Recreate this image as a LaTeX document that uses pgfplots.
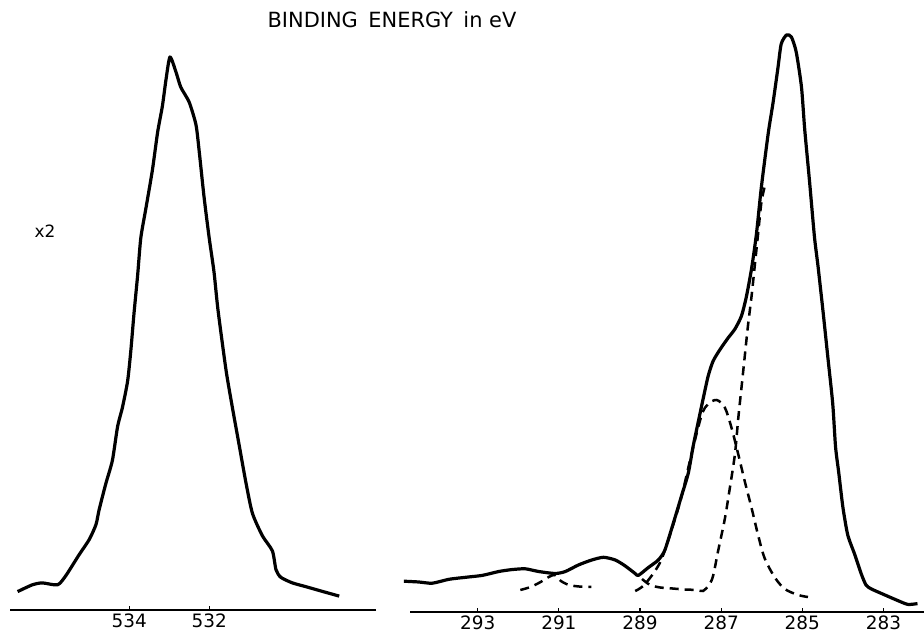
\documentclass[border=0pt]{standalone}
\usepackage{pgfplots}
\pgfplotsset{compat=1.18}
\usepackage{fontspec}
\setmainfont{DejaVu Sans}
\begin{document}
\begin{tikzpicture}
\path[use as bounding box] (0,0) rectangle (924bp,632bp);
\pgfplotsset{
  xpsstyle/.style={
    scale only axis,
    axis x line*=bottom,
    axis y line=none,
    x dir=reverse,
    ymin=0,
    clip=false,
    axis line style={line width=2.6bp, black},
    tick align=inside,
    major tick length=4bp,
    tick style={line width=1.2bp, black},
    xticklabel style={font=\fontsize{18.5}{18.5}\selectfont, inner sep=0pt, anchor=north},
    xticklabel shift=3.5bp,
  },
  solidcurve/.style={black, line width=3.2bp, line join=round, no markers, smooth, tension=0.4},
  dashcurve/.style={black, line width=2.5bp, dash pattern=on 9bp off 6bp, no markers, smooth},
}
% ---------- left panel: O 1s ----------
\begin{axis}[xpsstyle,
  at={(10bp,22bp)}, anchor=south west,
  width=366bp, height=580bp,
  xmin=527.83, xmax=536.98, ymax=580,
  xtick={534,532}, xticklabels={534,532}]
\addplot[solidcurve] coordinates {
(536.79,18.4) (536.42,25.2) (536.17,27.1) (535.79,25.2) (535.58,34.6)
(535.25,55.4) (535.00,70.4) (534.83,85.5) (534.75,100.6) (534.58,127)
(534.42,149.6) (534.29,183.5) (534.17,202.4) (534.04,228.8) (533.96,259)
(533.88,296.6) (533.79,334.3) (533.71,372) (533.58,402.2) (533.42,439.9)
(533.29,477.6) (533.17,504) (533.08,530.4) (532.98,553) (532.83,537.9)
(532.71,522.8) (532.50,507.8) (532.33,485.1) (532.25,458.7) (532.13,413.5)
(532.00,372) (531.88,338.1) (531.78,300) (531.58,240.1)
(531.42,202.4) (531.25,164.7) (531.08,127) (530.92,96.8) (530.67,74.2)
(530.42,59.1) (530.33,40.3) (530.21,32.7) (529.92,27.1) (529.58,23.3)
(529.25,19.5) (528.92,15.8) (528.75,13.9)
};
\end{axis}
% ---------- right panel: C 1s ----------
\begin{axis}[xpsstyle,
  at={(410bp,20bp)}, anchor=south west,
  width=514bp, height=582bp,
  xmin=282.0, xmax=294.67, ymax=582,
  xtick={293,291,289,287,285,283}, xticklabels={293,291,289,287,285,283}]
\addplot[solidcurve] coordinates {
(294.82,30.8) (294.45,30.0) (294.12,28.8) (293.71,32.7) (293.30,34.7)
(292.89,36.6) (292.48,40.5) (292.16,42.4) (291.83,43.2) (291.50,40.5)
(291.09,38.5) (290.84,40.5) (290.52,47.0) (290.19,52.0) (289.90,54.7)
(289.61,52.0) (289.37,46.2) (289.12,38.5) (289.04,36.6) (288.80,44.3)
(288.55,52.0) (288.39,61.7) (288.18,88.7) (287.98,115.7) (287.81,138.9)
(287.69,165.9) (287.57,189.1) (287.44,214) (287.32,236) (287.20,250.8)
(287.03,262.4) (286.83,274.0) (286.66,283) (286.50,296) (286.38,315)
(286.25,343.5) (286.13,378.2) (286.01,424.5) (285.84,478.6) (285.72,509.5)
(285.60,544.2) (285.52,568) (285.39,577) (285.27,575.1) (285.15,560)
(285.02,524.9) (284.94,482.4) (284.82,430) (284.70,375) (284.61,345)
(284.49,301.0) (284.37,254.7) (284.25,208.4) (284.18,165) (284.10,138.9)
(284.00,105) (283.88,77.1) (283.71,57.8) (283.55,38.5) (283.43,27.0)
(283.30,23.1) (282.98,17.3) (282.65,11.5) (282.40,7.6) (282.16,8.4)
};
% small component near 291
\addplot[dashcurve] coordinates {
(291.95,22) (291.7,25) (291.45,30) (291.25,35) (291.1,37)
(290.95,31) (290.75,27) (290.5,25.5) (290.2,25)
};
% component near 287.1
\addplot[dashcurve] coordinates {
(289.12,21) (288.88,27.7) (288.5,50) (288.2,85) (287.98,115) (287.73,158)
(287.48,197) (287.32,208) (287.11,212) (286.91,204.5) (286.75,185)
(286.58,158) (286.42,131) (286.25,104) (286.09,77) (285.93,54)
(285.68,34.7) (285.43,23) (285.1,17) (284.86,15)
};
% main component near 285.3 (visible part)
\addplot[dashcurve] coordinates {
(288.95,33) (288.75,27) (288.5,24.5) (288.2,23.5) (287.9,22.5) (287.6,22)
(287.45,21) (287.3,27) (287.2,36) (287.07,62) (286.91,93) (286.79,123)
(286.66,158) (286.58,193) (286.5,224) (286.42,255) (286.34,286)
(286.25,316) (286.17,347) (286.09,378) (286.01,409) (285.93,425)
};
\end{axis}
\node[font=\fontsize{21}{21}\selectfont, anchor=center] at (392bp,612bp)
  {BINDING\hspace{0.5em}ENERGY\hspace{0.5em}in eV};
\node[font=\fontsize{17}{17}\selectfont, anchor=center] at (45bp,401bp) {x2};
\end{tikzpicture}
\end{document}
